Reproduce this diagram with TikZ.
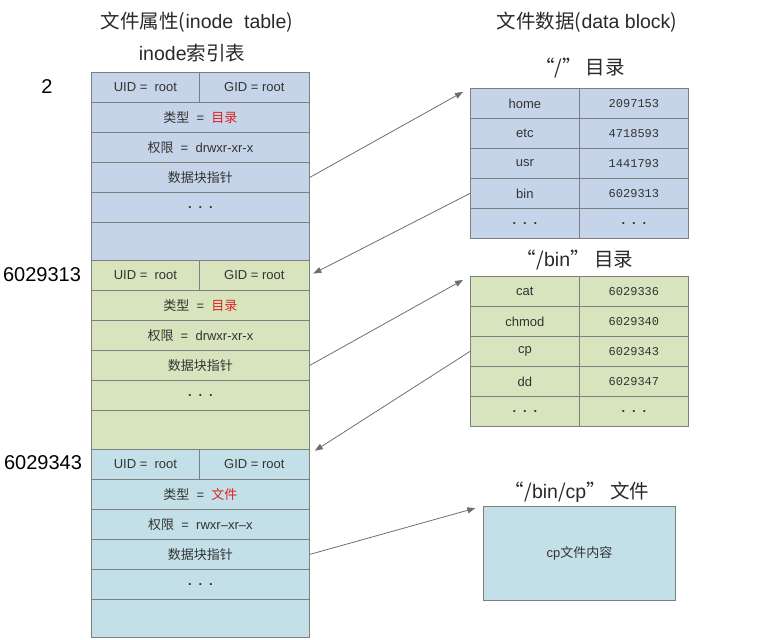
\documentclass[tikz,border=0pt]{standalone}
\usepackage{fontspec}
\setmainfont{Liberation Sans}
\newfontfamily\cjk{Noto Sans CJK SC}
\newfontfamily\digitfont{Liberation Mono}
\usetikzlibrary{arrows.meta,calc}
\definecolor{cblue}{HTML}{C5D4E8}
\definecolor{cgreen}{HTML}{D7E4BD}
\definecolor{ccyan}{HTML}{C3E0E8}
\definecolor{cline}{HTML}{7F7F7F}
\definecolor{ctext}{HTML}{333333}
\definecolor{cred}{HTML}{E02020}
\definecolor{carrow}{HTML}{6E6E6E}
\begin{document}
\begin{tikzpicture}[x=1pt,y=-1pt,
  cell/.style={draw=cline, line width=0.8pt, inner sep=0pt, anchor=north west,
    text=ctext, font=\fontsize{13}{15}\selectfont},
  full/.style={cell, minimum width=218pt, minimum height=30pt},
  halfl/.style={cell, minimum width=108pt, minimum height=30pt},
  halfr/.style={cell, minimum width=110pt, minimum height=30pt},
  dcell/.style={cell, minimum width=109pt, minimum height=30pt},
  num/.style={cell, minimum width=109pt, minimum height=30pt, font=\digitfont\fontsize{12}{14}\selectfont},
  title/.style={text=ctext!80!black, font=\fontsize{19.5}{22}\selectfont, inner sep=0pt},
  idx/.style={text=black, font=\fontsize{20}{23}\selectfont, inner sep=0pt},
  arr/.style={draw=carrow, line width=0.8pt, -{Triangle[length=8pt,width=6pt]}}]
\useasboundingbox (0,0) rectangle (759,639);

% titles
\node[title] (tleft) at (197,22) {{\cjk 文件属性(}inode\ \ table{\cjk )}};
\node[title] (tidx) at (192,53) {inode{\cjk 索引表}};
\node[title] (tright) at (587,22) {{\cjk 文件数据(}data block{\cjk )}};
\node[title] (troot) at (580,68) {{\cjk “/” 目录}};
\node[title] (tbin) at (575,260) {{\cjk “/}bin{\cjk ” 目录}};
\node[title] (tcp) at (577,492) {{\cjk “/}bin{\cjk /}cp{\cjk ” 文件}};

% inode numbers
\node[idx] (n2) at (47,87) {2};
\node[idx] (n6029313) at (42,275) {6029313};
\node[idx] (n6029343) at (43,463) {6029343};

% block 1
\node[halfl, fill=cblue] (b1uid) at (91,72) {UID = \ root};
\node[halfr, fill=cblue] (b1gid) at (199,72) {GID = root};
\node[full, fill=cblue] (b1type) at (91,102) {{\cjk 类型} \ = \ {\cjk\color{cred}目录}};
\node[full, fill=cblue] (b1perm) at (91,132) {{\cjk 权限} \ = \ drwxr-xr-x};
\node[full, fill=cblue] (b1ptr) at (91,162) {\cjk 数据块指针};
\node[full, fill=cblue] (b1dots) at (91,192) {\bfseries . \,. \,.};
\node[full, fill=cblue, minimum height=38pt] (b1empty) at (91,222) {};

% block 2
\node[halfl, fill=cgreen] (b2uid) at (91,260) {UID = \ root};
\node[halfr, fill=cgreen] (b2gid) at (199,260) {GID = root};
\node[full, fill=cgreen] (b2type) at (91,290) {{\cjk 类型} \ = \ {\cjk\color{cred}目录}};
\node[full, fill=cgreen] (b2perm) at (91,320) {{\cjk 权限} \ = \ drwxr-xr-x};
\node[full, fill=cgreen] (b2ptr) at (91,350) {\cjk 数据块指针};
\node[full, fill=cgreen] (b2dots) at (91,380) {\bfseries . \,. \,.};
\node[full, fill=cgreen, minimum height=39pt] (b2empty) at (91,410) {};

% block 3
\node[halfl, fill=ccyan] (b3uid) at (91,449) {UID = \ root};
\node[halfr, fill=ccyan] (b3gid) at (199,449) {GID = root};
\node[full, fill=ccyan] (b3type) at (91,479) {{\cjk 类型} \ = \ {\cjk\color{cred}文件}};
\node[full, fill=ccyan] (b3perm) at (91,509) {{\cjk 权限} \ = \ rwxr–xr–x};
\node[full, fill=ccyan] (b3ptr) at (91,539) {\cjk 数据块指针};
\node[full, fill=ccyan] (b3dots) at (91,569) {\bfseries . \,. \,.};
\node[full, fill=ccyan, minimum height=38pt] (b3empty) at (91,599) {};

% table "/"
\node[dcell, fill=cblue] (t1home) at (470,88) {home};
\node[num, fill=cblue] (t1homen) at (579,88) {2097153};
\node[dcell, fill=cblue] (t1etc) at (470,118) {etc};
\node[num, fill=cblue] (t1etcn) at (579,118) {4718593};
\node[dcell, fill=cblue] (t1usr) at (470,148) {usr};
\node[num, fill=cblue] (t1usrn) at (579,148) {1441793};
\node[dcell, fill=cblue] (t1bin) at (470,178) {bin};
\node[num, fill=cblue] (t1binn) at (579,178) {6029313};
\node[dcell, fill=cblue] (t1dots) at (470,208) {\bfseries . \,. \,.};
\node[dcell, fill=cblue] (t1dotsn) at (579,208) {\bfseries . \,. \,.};

% table "/bin"
\node[dcell, fill=cgreen] (t2cat) at (470,276) {cat};
\node[num, fill=cgreen] (t2catn) at (579,276) {6029336};
\node[dcell, fill=cgreen] (t2chmod) at (470,306) {chmod};
\node[num, fill=cgreen] (t2chmodn) at (579,306) {6029340};
\node[dcell, fill=cgreen] (t2cp) at (470,336) {cp};
\node[num, fill=cgreen] (t2cpn) at (579,336) {6029343};
\node[dcell, fill=cgreen] (t2dd) at (470,366) {dd};
\node[num, fill=cgreen] (t2ddn) at (579,366) {6029347};
\node[dcell, fill=cgreen] (t2dots) at (470,396) {\bfseries . \,. \,.};
\node[dcell, fill=cgreen] (t2dotsn) at (579,396) {\bfseries . \,. \,.};

% file content
\node[cell, fill=ccyan, minimum width=192pt, minimum height=94pt] (cpbox) at (483,506) {{cp\cjk 文件内容}};

% arrows
\draw[arr, shorten >=8pt] (b1ptr.east) -- (t1home.north west);
\draw[arr, shorten >=4pt] (t1bin.west) -- (b2gid.east);
\draw[arr, shorten >=8pt] (b2ptr.east) -- (t2cat.north west);
\draw[arr, shorten >=6pt] (t2cp.west) -- ([yshift=-5pt]b3gid.north east);
\draw[arr, shorten >=8pt] (b3ptr.east) -- (cpbox.north west);
\end{tikzpicture}
\end{document}
